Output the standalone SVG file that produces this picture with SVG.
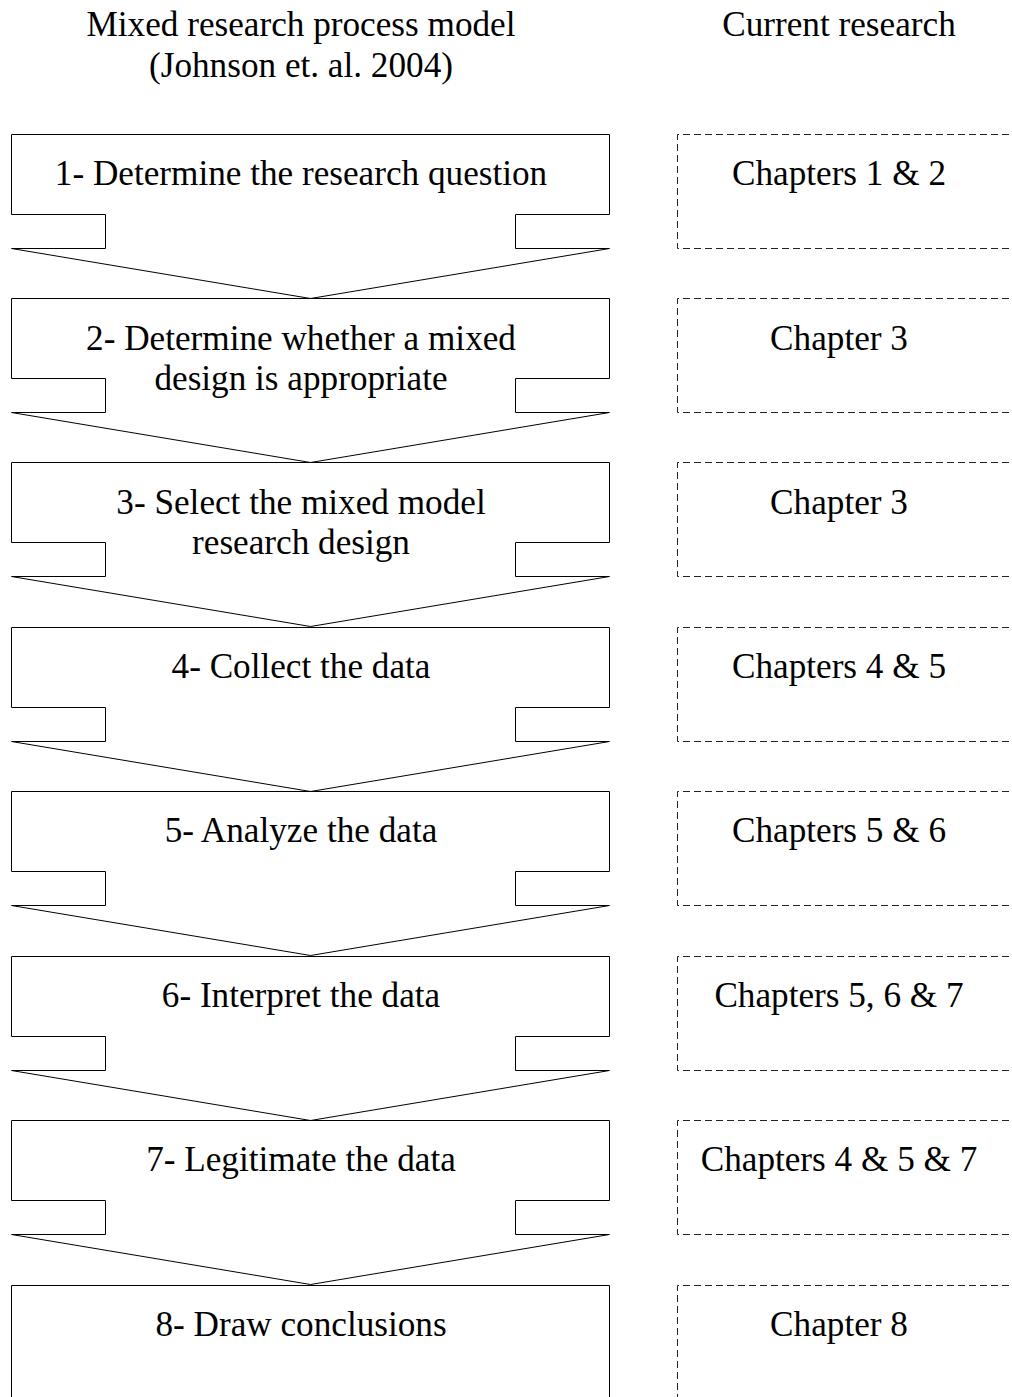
<svg xmlns="http://www.w3.org/2000/svg" width="1012" height="1397" viewBox="0 0 1012 1397">
  <style>
    .step { fill: #ffffff; stroke: #000000; stroke-width: 1; stroke-linejoin: miter; }
    .chap { fill: none; stroke: #222222; stroke-width: 1; stroke-dasharray: 7 4; }
    text { font-family: "Liberation Serif", "Times New Roman", serif; font-size: 35.2px; fill: #000000; text-anchor: middle; }
  </style>
  <defs>
    <!-- chevron-shaped step box: top at y=0, tabs below, pointing to the next step -->
    <path id="chevron" class="step" d="M11.5,0.5 H609.5 V80.5 H515.5 V114.5 H609.5 L310.5,164.5 L11.5,114.5 H105.5 V80.5 H11.5 Z"/>
  </defs>

  <!-- column headings -->
  <g id="heading-model">
    <text x="301" y="36">Mixed research process model</text>
    <text x="301" y="77">(Johnson et. al. 2004)</text>
  </g>
  <g id="heading-current">
    <text x="839" y="36">Current research</text>
  </g>

  <!-- process steps -->
  <g id="step1">
    <use href="#chevron" transform="translate(0,134)"/>
    <text x="301" y="185">1- Determine the research question</text>
  </g>
  <g id="step2">
    <use href="#chevron" transform="translate(0,298)"/>
    <text x="301" y="350">2- Determine whether a mixed</text>
    <text x="301" y="390">design is appropriate</text>
  </g>
  <g id="step3">
    <use href="#chevron" transform="translate(0,462)"/>
    <text x="301" y="514">3- Select the mixed model</text>
    <text x="301" y="554">research design</text>
  </g>
  <g id="step4">
    <use href="#chevron" transform="translate(0,627)"/>
    <text x="301" y="678">4- Collect the data</text>
  </g>
  <g id="step5">
    <use href="#chevron" transform="translate(0,791)"/>
    <text x="301" y="842">5- Analyze the data</text>
  </g>
  <g id="step6">
    <use href="#chevron" transform="translate(0,956)"/>
    <text x="301" y="1007">6- Interpret the data</text>
  </g>
  <g id="step7">
    <use href="#chevron" transform="translate(0,1120)"/>
    <text x="301" y="1171">7- Legitimate the data</text>
  </g>
  <g id="step8">
    <path class="step" d="M11.5,1400 V1285.5 H609.5 V1400"/>
    <text x="301" y="1336">8- Draw conclusions</text>
  </g>

  <!-- matching chapters of the current research -->
  <g id="chap1">
    <path class="chap" d="M1020,134.5 H677.5 V248.5 H1020"/>
    <text x="839" y="185">Chapters 1 &amp; 2</text>
  </g>
  <g id="chap2">
    <path class="chap" d="M1020,298.5 H677.5 V412.5 H1020"/>
    <text x="839" y="350">Chapter 3</text>
  </g>
  <g id="chap3">
    <path class="chap" d="M1020,462.5 H677.5 V576.5 H1020"/>
    <text x="839" y="514">Chapter 3</text>
  </g>
  <g id="chap4">
    <path class="chap" d="M1020,627.5 H677.5 V741.5 H1020"/>
    <text x="839" y="678">Chapters 4 &amp; 5</text>
  </g>
  <g id="chap5">
    <path class="chap" d="M1020,791.5 H677.5 V905.5 H1020"/>
    <text x="839" y="842">Chapters 5 &amp; 6</text>
  </g>
  <g id="chap6">
    <path class="chap" d="M1020,956.5 H677.5 V1070.5 H1020"/>
    <text x="839" y="1007">Chapters 5, 6 &amp; 7</text>
  </g>
  <g id="chap7">
    <path class="chap" d="M1020,1120.5 H677.5 V1234.5 H1020"/>
    <text x="839" y="1171">Chapters 4 &amp; 5 &amp; 7</text>
  </g>
  <g id="chap8">
    <path class="chap" d="M1020,1285.5 H677.5 V1400"/>
    <text x="839" y="1336">Chapter 8</text>
  </g>
</svg>
